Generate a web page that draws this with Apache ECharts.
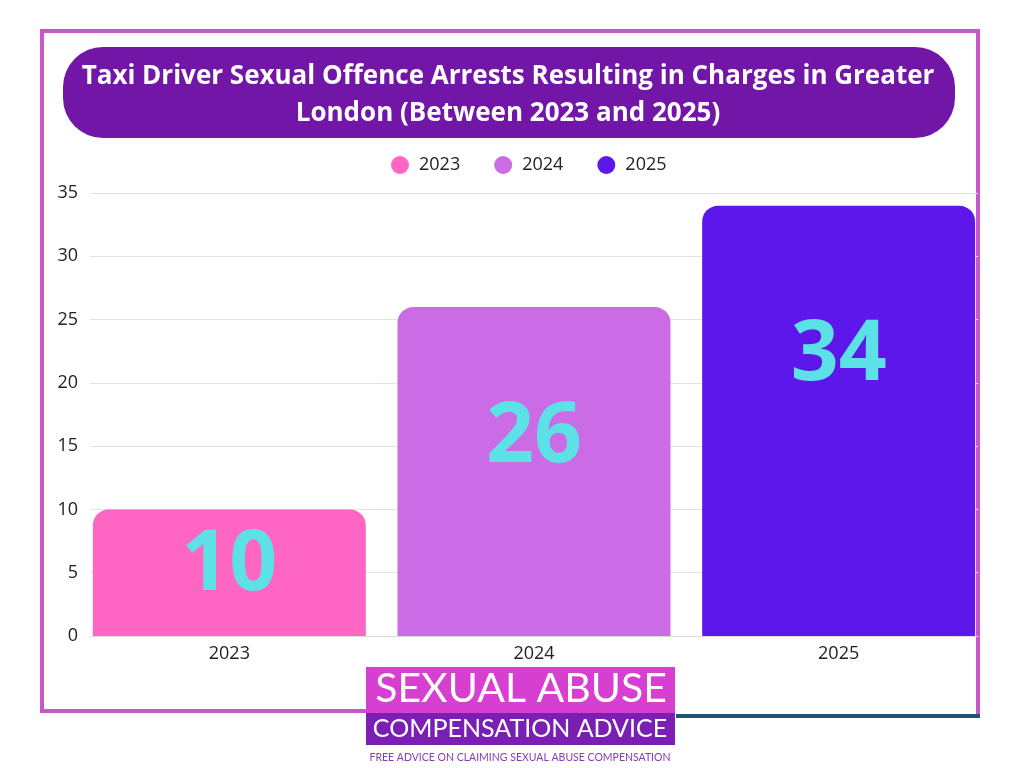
<!DOCTYPE html>
<html>
<head>
<meta charset="utf-8">
<script src="https://cdn.jsdelivr.net/npm/echarts@6/dist/echarts.min.js"></script>
<style>
  html, body { margin: 0; padding: 0; background: #fff; }
  #chart { width: 1024px; height: 768px; }
</style>
</head>
<body>
<div id="chart"></div>
<script>
    // data
    var years = ['2023', '2024', '2025'];
    var charges2023 = [10, '-', '-'];
    var charges2024 = ['-', 26, '-'];
    var charges2025 = ['-', '-', 34];
    var yTicks = {min: 0, max: 35, interval: 5};

    var colors = ['#ff66c4', '#cb6ce6', '#5e17eb'];
    var font = '"Open Sans", "DejaVu Sans", sans-serif';

    var chart = echarts.init(document.getElementById('chart'));

    function barSeries(name, data, color, labelY) {
        return {
            name: name,
            type: 'bar',
            stack: 'all',
            xAxisIndex: 1,
            yAxisIndex: 1,
            barWidth: 273,
            data: data,
            itemStyle: {color: color, borderRadius: [16, 16, 0, 0]},
            label: {
                show: true,
                position: ['50%', labelY],
                align: 'center',
                verticalAlign: 'middle',
                color: '#5ce1e6',
                fontSize: 84,
                fontWeight: 'bold',
                fontFamily: font
            }
        };
    }

    var option = {
        animation: false,
        title: {
            text: 'Taxi Driver Sexual Offence Arrests Resulting in Charges in Greater\nLondon (Between 2023 and 2025)',
            left: 503,
            top: 53,
            textAlign: 'center',
            textStyle: {
                color: '#ffffff',
                fontSize: 26,
                fontWeight: 'bold',
                fontFamily: font,
                lineHeight: 37
            }
        },
        legend: {
            data: years,
            left: 386,
            top: 151,
            icon: 'circle',
            itemWidth: 18,
            itemHeight: 18,
            itemGap: 34,
            textStyle: {color: '#222', fontSize: 18, fontFamily: font, padding: [0, 0, 0, 5]}
        },
        grid: [
            {left: 90, right: 46, top: 193, bottom: 132},
            {left: 77, right: 33, top: 193, bottom: 132}
        ],
        xAxis: [
            {
                type: 'category', gridIndex: 0, data: years,
                axisLine: {show: true, lineStyle: {color: '#dcdcdc'}},
                axisTick: {show: false}, axisLabel: {show: false}
            },
            {
                type: 'category', gridIndex: 1, data: years,
                axisLine: {show: false}, axisTick: {show: false},
                axisLabel: {color: '#222', fontSize: 18, fontFamily: font, margin: 9}
            }
        ],
        yAxis: [
            {
                type: 'value', gridIndex: 0,
                min: yTicks.min, max: yTicks.max, interval: yTicks.interval,
                axisLine: {show: false}, axisTick: {show: false},
                axisLabel: {color: '#222', fontSize: 18, fontFamily: font, margin: 12},
                splitLine: {lineStyle: {color: '#e2e2e2'}}
            },
            {
                type: 'value', gridIndex: 1,
                min: yTicks.min, max: yTicks.max, interval: yTicks.interval,
                show: false
            }
        ],
        series: [
            barSeries('2023', charges2023, colors[0], '45%'),
            barSeries('2024', charges2024, colors[1], '40%'),
            barSeries('2025', charges2025, colors[2], '35%')
        ],
        graphic: [
            // frame
            {
                type: 'polyline', z: 0, silent: true,
                shape: {points: [[366, 711], [42, 711], [42, 31], [978, 31], [978, 714]]},
                style: {stroke: '#c758c8', lineWidth: 4, fill: null}
            },
            {
                type: 'line', z: 0, silent: true,
                shape: {x1: 676, y1: 716, x2: 980, y2: 716},
                style: {stroke: '#1e5476', lineWidth: 4}
            },
            // title box
            {
                type: 'rect', z: -1, silent: true,
                shape: {x: 63, y: 47, width: 892, height: 91, r: 40},
                style: {fill: '#7116a7'}
            },
            // logo
            {
                type: 'rect', z: 10, silent: true,
                shape: {x: 366, y: 667, width: 309, height: 47},
                style: {fill: '#d63fcf'}
            },
            {
                type: 'rect', z: 10, silent: true,
                shape: {x: 366, y: 713, width: 309, height: 32},
                style: {fill: '#7a1fb3'}
            },
            {
                type: 'rect', z: 10, silent: true,
                shape: {x: 366, y: 745, width: 309, height: 23},
                style: {fill: '#ffffff'}
            },
            {
                type: 'text', z: 11, silent: true,
                style: {
                    text: 'SEXUAL ABUSE', x: 521, y: 689, align: 'center', verticalAlign: 'middle',
                    fill: '#ffffff', font: '41px Lato, "Open Sans", sans-serif'
                }
            },
            {
                type: 'text', z: 11, silent: true,
                style: {
                    text: 'COMPENSATION ADVICE', x: 520, y: 729, align: 'center', verticalAlign: 'middle',
                    fill: '#ffffff', font: '25px Lato, "Open Sans", sans-serif'
                }
            },
            {
                type: 'text', z: 11, silent: true,
                style: {
                    text: 'FREE ADVICE ON CLAIMING SEXUAL ABUSE COMPENSATION', x: 520, y: 758,
                    align: 'center', verticalAlign: 'middle',
                    fill: '#8a3bb7', font: '10.5px Lato, "Open Sans", sans-serif'
                }
            }
        ]
    };

    chart.setOption(option);
</script>
</body>
</html>
